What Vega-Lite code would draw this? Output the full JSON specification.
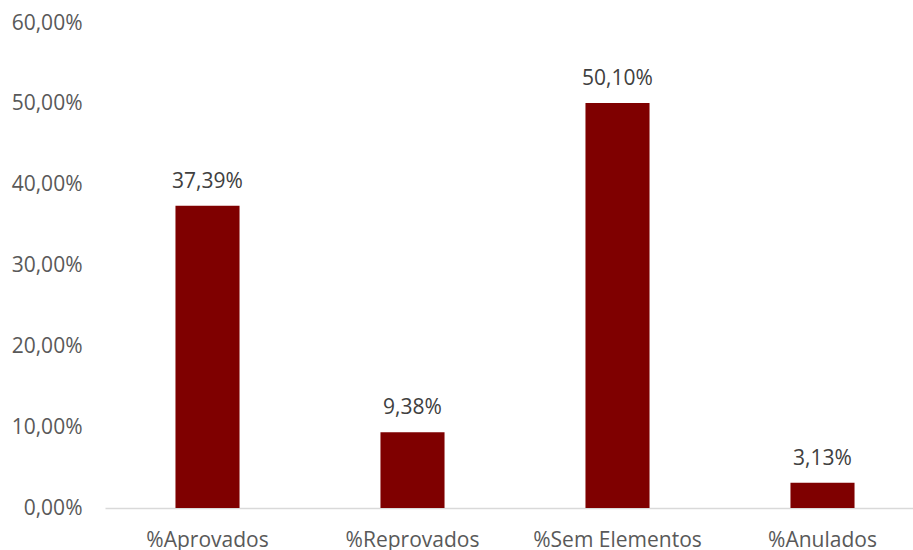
{
  "$schema": "https://vega.github.io/schema/vega-lite/v6.json",
  "width": 808,
  "height": 485,
  "autosize": {"type": "none"},
  "padding": {"left": 105, "top": 23, "right": 0, "bottom": 42},
  "background": "white",
  "config": {
    "locale": {"number": {"decimal": ",", "thousands": ".", "grouping": [3], "currency": ["", " €"]}},
    "view": {"stroke": null},
    "font": "Open Sans"
  },
  "data": {"values": [
    {"categoria": "%Aprovados", "valor": 0.3739},
    {"categoria": "%Reprovados", "valor": 0.0938},
    {"categoria": "%Sem Elementos", "valor": 0.5010},
    {"categoria": "%Anulados", "valor": 0.0313}
  ]},
  "encoding": {
    "x": {
      "field": "categoria", "type": "nominal", "sort": null,
      "scale": {"range": [0, 820], "paddingInner": 0.6875, "paddingOuter": 0.34375},
      "axis": {"title": null, "labelAngle": 0, "ticks": false, "domainColor": "#d9d9d9", "domainWidth": 1.5, "labelColor": "#595959", "labelFontSize": 21, "labelFont": "Open Sans", "labelPadding": 21}
    },
    "y": {
      "field": "valor", "type": "quantitative",
      "scale": {"domain": [0, 0.6]},
      "axis": {"title": null, "values": [0, 0.1, 0.2, 0.3, 0.4, 0.5, 0.6], "format": ".2%", "grid": false, "domain": false, "ticks": false, "labelColor": "#595959", "labelFontSize": 21, "labelFont": "Open Sans", "labelPadding": 23}
    }
  },
  "layer": [
    {"mark": {"type": "bar", "color": "#7f0000"}},
    {
      "mark": {"type": "text", "baseline": "alphabetic", "dy": -18, "fontSize": 21, "font": "Open Sans", "color": "#404040"},
      "encoding": {"text": {"field": "valor", "type": "quantitative", "format": ".2%"}}
    }
  ]
}
